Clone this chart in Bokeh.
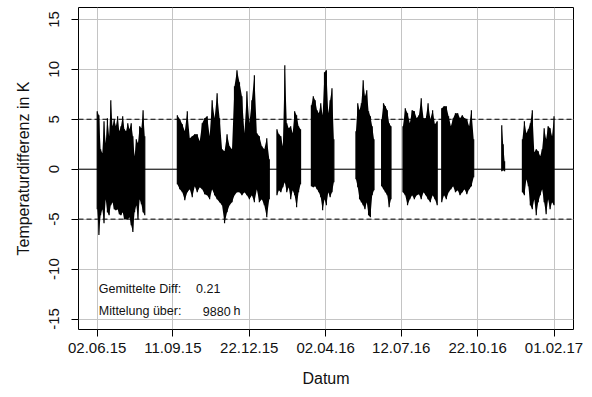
import numpy as np
import pandas as pd
from bokeh.plotting import figure
from bokeh.models import FixedTicker, Span, Label, ColumnDataSource, Range1d
from bokeh.embed import file_html
from bokeh.resources import INLINE

# ---------------- data ----------------
x_tick_dates = ["2015-06-02", "2015-09-11", "2015-12-22", "2016-04-02",
                "2016-07-12", "2016-10-22", "2017-02-01"]
x_tick_labels = ["02.06.15", "11.09.15", "22.12.15", "02.04.16",
                 "12.07.16", "22.10.16", "01.02.17"]
y_ticks = [-15, -10, -5, 0, 5, 10, 15]
limit_upper = 5
limit_lower = -5
mean_diff = "0.21"
mean_hours = "9880"

# measurement periods (start, end) and envelope of the temperature difference (K)
b1_period = ("2015-06-02", "2015-08-04T12")
b1_max = [5.8, 5.4, 2.0, 1.6, 4.8, 2.6, 5.1, 3.3, 6.9, 4.3, 5.0, 4.3, 5.3, 3.8, 4.3,
          5.3, 4.0, 3.8, 4.6, 4.0, 4.6, 3.3, 1.3, 3.0, 2.6, 4.3, 4.1, 5.9, 3.3]
b1_min = [-4.0, -6.6, -4.6, -4.0, -5.4, -3.0, -4.3, -4.6, -3.6, -3.3, -4.0, -4.1, -4.0, -4.5, -4.6,
          -4.3, -5.0, -5.0, -5.0, -4.8, -5.6, -6.3, -4.3, -3.6, -5.0, -3.0, -3.5, -4.3, -4.6]

b2_period = ("2015-09-17", "2016-01-17T18")
b2_max = [5.4, 5.0, 4.5, 3.8, 5.8, 3.1, 3.3, 3.5, 3.5, 2.8, 4.6, 5.1, 5.3, 3.3, 6.9,
          5.1, 7.6, 5.1, 2.0, 1.8, 3.5, 2.3, 2.0, 8.3, 9.9, 8.7, 7.3, 3.6, 7.8, 4.6,
          6.9, 9.4, 3.6, 3.3, 2.3, 2.0, 3.1, 1.0]
b2_min = [-1.5, -2.0, -2.3, -3.1, -2.3, -2.0, -2.8, -1.7, -2.3, -1.8, -2.0, -2.5, -2.6, -3.0, -2.0,
          -2.6, -3.0, -3.3, -3.6, -5.4, -4.3, -3.6, -3.3, -2.6, -2.3, -2.3, -2.6, -2.3, -2.6, -3.0,
          -2.6, -3.3, -2.0, -3.3, -3.0, -3.6, -4.8, -3.0]

b3_period = ("2016-01-28", "2016-02-28T12")
b3_max = [4.0, 3.5, 3.3, 2.3, 10.4, 4.6, 4.1, 4.3, 3.6, 5.8, 5.4, 4.3, 4.0]
b3_min = [-2.6, -2.1, -2.3, -1.8, -1.3, -2.3, -1.8, -3.0, -2.1, -2.6, -3.8, -2.3, -1.5]

b4_period = ("2016-03-14", "2016-04-13")
b4_max = [6.4, 7.3, 6.9, 5.9, 5.6, 6.6, 5.4, 9.7, 9.9, 5.6, 6.9, 8.1, 3.0]
b4_min = [-1.7, -1.8, -1.7, -2.0, -2.3, -2.8, -4.1, -3.0, -3.6, -2.3, -2.8, -2.3, -1.3]

b5_period = ("2016-05-12T12", "2016-06-05T14")
b5_max = [3.8, 6.6, 5.9, 6.6, 8.9, 7.3, 7.9, 5.8, 5.3, 4.3, 3.0]
b5_min = [-1.0, -1.8, -3.0, -3.3, -3.6, -4.0, -3.3, -4.6, -4.8, -2.6, -2.1]

b6_period = ("2016-06-15T19", "2016-06-28T07")
b6_max = [5.0, 6.6, 6.3, 5.9, 4.6, 4.3]
b6_min = [-1.7, -2.0, -2.3, -2.6, -3.8, -3.0]

b7_period = ("2016-07-14T07", "2016-10-16T17")
b7_max = [4.3, 6.1, 5.6, 4.6, 5.9, 5.8, 5.1, 5.4, 7.1, 5.1, 5.1, 6.6, 5.0, 5.9, 4.5,
          4.8, np.nan, 6.1, 6.3, 6.3, 5.3, 4.3, 5.1, 5.6, 5.6, 5.1, 5.4, 5.1, 5.0, 4.3,
          5.9, 3.0]
b7_min = [-2.3, -2.6, -3.6, -3.0, -2.6, -3.0, -2.6, -2.5, -3.0, -2.3, -2.6, -3.0, -3.3, -2.6, -3.0,
          -3.6, np.nan, -3.3, -2.6, -3.0, -2.3, -2.0, -1.7, -2.3, -2.1, -2.6, -2.3, -2.0, -2.5, -2.0,
          -1.7, -0.8]

b8_period = ("2016-11-23T05", "2016-11-27")
b8_max = [4.4, 2.5, 0.8]
b8_min = [-0.2, -0.1, -0.2]

b9_period = ("2016-12-20T19", "2017-02-01")
b9_max = [3.0, 4.8, 3.6, 4.0, 4.6, 5.9, 1.7, 2.0, 1.8, 1.3, 2.0, 4.1, 3.0, 4.3, 4.1, 3.3, 5.3]
b9_min = [-2.3, -2.6, -1.0, -1.7, -3.6, -4.0, -3.0, -4.6, -3.3, -2.6, -2.0, -3.3, -4.5, -3.0, -4.0, -3.3, -3.6]

blocks = [(b1_period, b1_max, b1_min), (b2_period, b2_max, b2_min), (b3_period, b3_max, b3_min),
          (b4_period, b4_max, b4_min), (b5_period, b5_max, b5_min), (b6_period, b6_max, b6_min),
          (b7_period, b7_max, b7_min), (b8_period, b8_max, b8_min), (b9_period, b9_max, b9_min)]

# ---------------- figure ----------------
FONT = "Liberation Sans"

def ms(s):
    return pd.Timestamp(s).value / 1e6

p = figure(width=584, height=389, output_backend="svg", toolbar_location=None,
           x_axis_type="datetime",
           x_range=Range1d(ms("2015-05-08"), ms("2017-02-27")),
           y_range=Range1d(-16.05, 16.19),
           min_border_left=78, min_border_right=11, min_border_top=7, min_border_bottom=57,
           background_fill_color="white", border_fill_color="white")

p.outline_line_color = "black"
p.outline_line_width = 1

# grid
p.xgrid.grid_line_color = "#c4c4c4"
p.ygrid.grid_line_color = "#c4c4c4"
p.xgrid.grid_line_width = 1
p.ygrid.grid_line_width = 1

# data: envelope of each measurement period, split where readings are missing
for (start, end), hi, lo in blocks:
    n = len(hi)
    t = np.linspace(ms(start), ms(end), n)
    hi = np.array(hi, dtype=float)
    lo = np.array(lo, dtype=float)
    valid = ~np.isnan(hi)
    # split into runs of valid readings
    idx = np.where(valid)[0]
    runs = np.split(idx, np.where(np.diff(idx) > 1)[0] + 1)
    for r in runs:
        if len(r) == 0:
            continue
        src = ColumnDataSource(dict(x=t[r], y1=lo[r], y2=hi[r]))
        p.varea(x="x", y1="y1", y2="y2", source=src, fill_color="black")
        p.segment(x0="x", y0="y1", x1="x", y1="y2", source=src,
                  line_color="black", line_width=1.2)

# reference lines
p.add_layout(Span(location=0, dimension="width", line_color="black", line_width=1))
for lim in (limit_upper, limit_lower):
    p.add_layout(Span(location=lim, dimension="width", line_color="black",
                      line_width=1, line_dash="5 3"))

# axes
xt = [ms(d) for d in x_tick_dates]
p.xaxis.ticker = FixedTicker(ticks=xt)
p.xaxis.major_label_overrides = {t: lab for t, lab in zip(xt, x_tick_labels)}
p.yaxis.ticker = FixedTicker(ticks=y_ticks)
p.yaxis.major_label_overrides = {v: str(v) for v in y_ticks}
p.yaxis.major_label_orientation = "vertical"

for ax in (p.xaxis[0], p.yaxis[0]):
    ax.axis_line_color = None
    ax.major_tick_line_color = "black"
    ax.major_tick_out = 7
    ax.major_tick_in = 0
    ax.minor_tick_line_color = None
    ax.major_label_text_font = FONT
    ax.major_label_text_font_size = "15px"
    ax.major_label_text_color = "#111111"
    ax.axis_label_text_font = FONT
    ax.axis_label_text_font_size = "16px"
    ax.axis_label_text_font_style = "normal"
    ax.axis_label_text_color = "#111111"

p.xaxis.axis_label = "Datum"
p.yaxis.axis_label = "Temperaturdifferenz in K"
p.xaxis.major_label_standoff = 6
p.yaxis.major_label_standoff = 12
p.xaxis.axis_label_standoff = 14
p.yaxis.axis_label_standoff = 15

# annotation texts
lab_kw = dict(x_units="data", y_units="data", text_font=FONT, text_font_size="12.5px",
              text_color="#111111", text_baseline="alphabetic")
p.add_layout(Label(x=ms("2015-06-04"), y=-11.95, text="Gemittelte Diff:", **lab_kw))
p.add_layout(Label(x=ms("2015-10-12"), y=-11.95, text=mean_diff, **lab_kw))
p.add_layout(Label(x=ms("2015-06-04"), y=-14.2, text="Mittelung über:", **lab_kw))
p.add_layout(Label(x=ms("2015-10-21"), y=-14.2, text=mean_hours, **lab_kw))
p.add_layout(Label(x=ms("2015-12-01"), y=-14.2, text="h", **lab_kw))

open("out.html", "w").write(file_html(p, INLINE))
